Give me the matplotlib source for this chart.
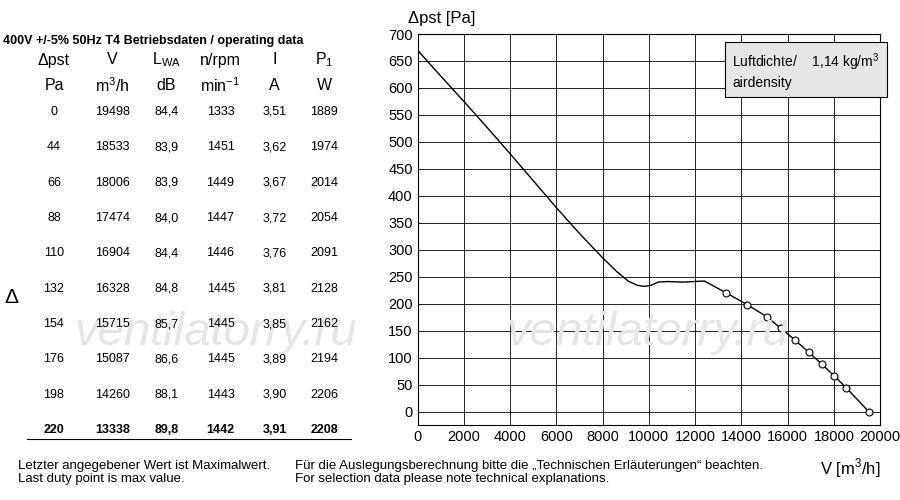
import matplotlib
matplotlib.use("Agg")
import matplotlib.pyplot as plt
import numpy as np

plt.rcParams["font.family"] = ["Liberation Sans", "DejaVu Sans"]
plt.rcParams["mathtext.fontset"] = "custom"
plt.rcParams["mathtext.rm"] = "Liberation Sans"

# operating data table
rows = [
    (0, 19498, "84,4", 1333, "3,51", 1889),
    (44, 18533, "83,9", 1451, "3,62", 1974),
    (66, 18006, "83,9", 1449, "3,67", 2014),
    (88, 17474, "84,0", 1447, "3,72", 2054),
    (110, 16904, "84,4", 1446, "3,76", 2091),
    (132, 16328, "84,8", 1445, "3,81", 2128),
    (154, 15715, "85,7", 1445, "3,85", 2162),
    (176, 15087, "86,6", 1445, "3,89", 2194),
    (198, 14260, "88,1", 1443, "3,90", 2206),
    (220, 13338, "89,8", 1442, "3,91", 2208),
]

# characteristic curve
curve_v = [0, 1000, 2000, 3000, 4000, 5000, 6000, 7000, 8000, 8600, 9100, 9500,
           9800, 10100, 10400, 10800, 11500, 12400, 13338, 14260, 15087, 15715,
           16328, 16904, 17474, 18006, 18533, 19498]
curve_p = [670, 622, 575, 527, 478, 428, 378, 330, 285, 260, 242, 234,
           232, 234, 240, 241, 240, 242, 220, 198, 176, 154,
           132, 110, 88, 66, 44, 0]

fig = plt.figure(figsize=(9, 5), dpi=100)

# watermark
fig.text(0.24, 0.31, "ventilatorry.ru", fontsize=34, style="italic", color="#e6e6e6", ha="center", zorder=0)
fig.text(0.72, 0.31, "ventilatorry.ru", fontsize=34, style="italic", color="#e6e6e6", ha="center", zorder=0)

ax = fig.add_axes([0.464, 0.15, 0.514, 0.782])
ax.patch.set_alpha(0)
ax.plot(curve_v, curve_p, color="black", lw=1)
pts = [(r[1], r[0]) for r in rows]
ax.plot([p[0] for p in pts], [p[1] for p in pts], "o", mfc="white", mec="black", ms=5, mew=0.8)
ax.set_xlim(0, 20000)
ax.set_ylim(-25, 700)
ax.set_xticks(np.arange(0, 20001, 2000))
ax.set_yticks(np.arange(0, 701, 50))
ax.grid(True, color="black", lw=0.6)
ax.tick_params(labelsize=10.5, length=0)
for s in ax.spines.values():
    s.set_linewidth(0.8)
ax.text(-0.02, 1.02, "\u0394pst [Pa]", transform=ax.transAxes, fontsize=12, va="bottom")
ax.text(1.0, -0.08, "V [m$^3$/h]", transform=ax.transAxes, fontsize=12, ha="right", va="top")
ax.text(0.68, 0.955, "Luftdichte/    1,14 kg/m$^3$\nairdensity", transform=ax.transAxes,
        fontsize=10, va="top", linespacing=1.3,
        bbox=dict(facecolor="#e6e6e6", edgecolor="black", lw=0.8, pad=5))

# table
fig.text(0.003, 0.912, "400V +/-5% 50Hz T4 Betriebsdaten / operating data", fontsize=9, weight="bold")
cols = [0.06, 0.125, 0.185, 0.245, 0.305, 0.36]
heads1 = ["\u0394pst", "V", "L$_{\\mathrm{WA}}$", "n/rpm", "I", "P$_1$"]
heads2 = ["Pa", "m$^3$/h", "dB", "min$^{-1}$", "A", "W"]
for x, h1, h2 in zip(cols, heads1, heads2):
    fig.text(x, 0.88, h1, fontsize=11.5, ha="center", va="center")
    fig.text(x, 0.828, h2, fontsize=11.5, ha="center", va="center")
for i, r in enumerate(rows):
    y = 0.776 - i * 0.0707
    bold = i == len(rows) - 1
    for x, v in zip(cols, r):
        fig.text(x, y, str(v), fontsize=9, ha="center", va="center",
                 weight="bold" if bold else "normal")
fig.add_artist(plt.Line2D([0.03, 0.39], [0.122, 0.122], color="black", lw=0.8))
fig.text(0.005, 0.405, "\u0394", fontsize=15, va="center")

fig.text(0.02, 0.055, "Letzter angegebener Wert ist Maximalwert.\nLast duty point is max value.",
         fontsize=9.5, va="center", linespacing=1.2)
fig.text(0.328, 0.055, "F\u00fcr die Auslegungsberechnung bitte die \u201eTechnischen Erl\u00e4uterungen\u201c beachten.\nFor selection data please note technical explanations.",
         fontsize=9.5, va="center", linespacing=1.2)

fig.savefig("out.png", dpi=100)
